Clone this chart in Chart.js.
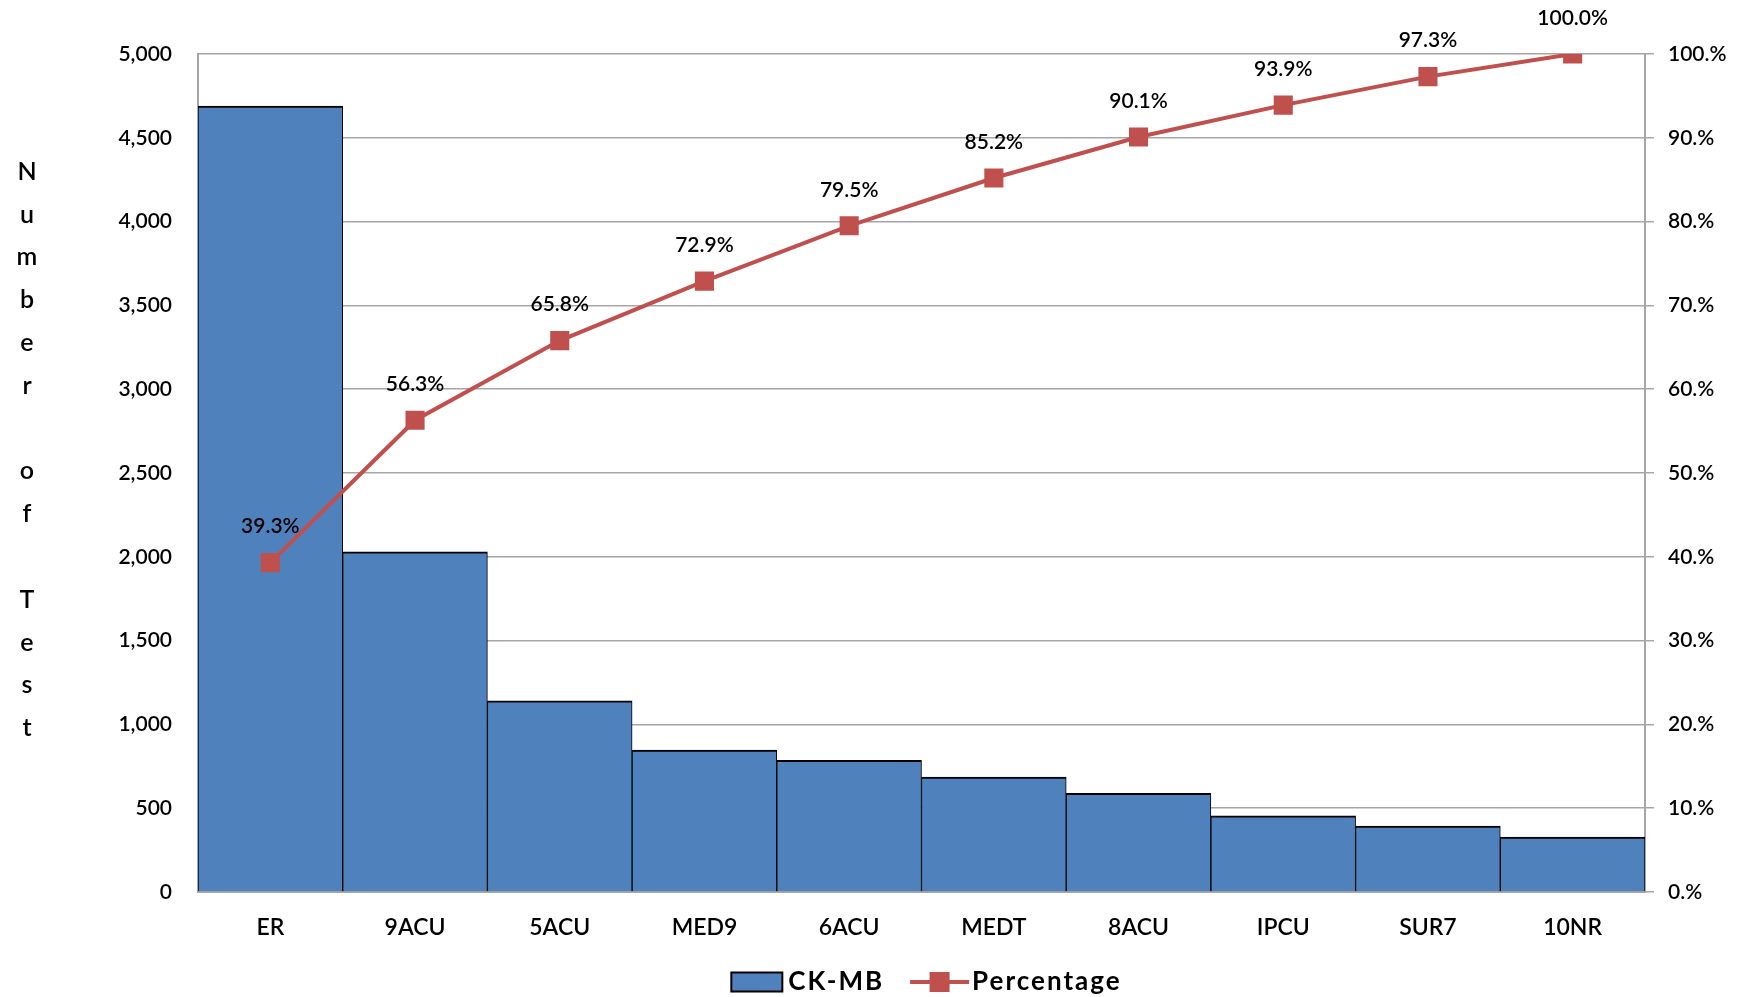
<!DOCTYPE html>
<html>
<head>
<meta charset="utf-8">
<title>CK-MB Pareto</title>
<script src="https://cdn.jsdelivr.net/npm/chart.js@4/dist/chart.umd.min.js"></script>
<style>
  html, body { margin: 0; padding: 0; background: #ffffff; }
  #wrap { width: 1748px; height: 997px; position: relative; }
</style>
</head>
<body>
<div id="wrap"><canvas id="pareto"></canvas></div>
<script>
// Units and their CK-MB test counts, sorted descending
const categories = ['ER', '9ACU', '5ACU', 'MED9', '6ACU', 'MEDT', '8ACU', 'IPCU', 'SUR7', '10NR'];
const testCounts = [4690, 2030, 1140, 847, 785, 686, 588, 454, 394, 328];
// Cumulative share of all tests (%)
const cumulativePct = [39.3, 56.3, 65.8, 72.9, 79.5, 85.2, 90.1, 93.9, 97.3, 100.0];
// Axis ranges
const countAxis = { min: 0, max: 5000, step: 500 };
const pctAxis = { min: 0, max: 100, step: 10 };
const yTitle = 'Number of Test';
const seriesNames = ['CK-MB', 'Percentage'];

const FONT = 'Lato, "Open Sans", "Noto Sans", sans-serif';
const WEIGHT = '600';
const BAR_BLUE = '#4F81BD';
const LINE_RED = '#C0504D';
const GRID = '#A6A6A6';

// Value labels above the cumulative line markers
const pointLabels = {
  id: 'pointLabels',
  afterDatasetsDraw(chart) {
    const meta = chart.getDatasetMeta(1);
    const ctx = chart.ctx;
    ctx.save();
    ctx.font = WEIGHT + ' 21px ' + FONT;
    ctx.fillStyle = '#000';
    ctx.textAlign = 'center';
    ctx.textBaseline = 'middle';
    meta.data.forEach((el, i) => {
      ctx.fillText(cumulativePct[i].toFixed(1) + '%', el.x, el.y - 36);
    });
    ctx.restore();
  }
};

// Left axis title written as stacked upright letters
const stackedTitle = {
  id: 'stackedTitle',
  afterDraw(chart) {
    const ctx = chart.ctx;
    ctx.save();
    ctx.font = WEIGHT + ' 25px ' + FONT;
    ctx.fillStyle = '#000';
    ctx.textAlign = 'center';
    ctx.textBaseline = 'middle';
    const chars = yTitle.split('');
    const step = 42.8;
    const total = (chars.length - 1) * step;
    const cy = 450;
    chars.forEach((ch, i) => {
      if (ch !== ' ') ctx.fillText(ch, 27, cy - total / 2 + i * step);
    });
    ctx.restore();
  }
};

// Legend: filled box for the bars, line with square marker for the cumulative series
const bottomLegend = {
  id: 'bottomLegend',
  afterDraw(chart) {
    const ctx = chart.ctx;
    ctx.save();
    ctx.font = 'bold 26px ' + FONT;
    ctx.letterSpacing = '2px';
    ctx.textBaseline = 'middle';
    ctx.textAlign = 'left';
    const boxW = 51, boxH = 19, lineW = 59, sq = 20;
    const gapBox = 6, gapLine = 3, gapItem = 26;
    const w0 = ctx.measureText(seriesNames[0]).width;
    const w1 = ctx.measureText(seriesNames[1]).width;
    const totalW = boxW + gapBox + w0 + gapItem + lineW + gapLine + w1;
    const area = chart.chartArea;
    let x = (area.left + area.right) / 2 + 5 - totalW / 2;
    const cy = 982;
    // bar swatch
    ctx.fillStyle = BAR_BLUE;
    ctx.fillRect(x, cy - boxH / 2, boxW, boxH);
    ctx.strokeStyle = '#000';
    ctx.lineWidth = 2;
    ctx.strokeRect(x, cy - boxH / 2, boxW, boxH);
    x += boxW + gapBox;
    ctx.fillStyle = '#000';
    ctx.fillText(seriesNames[0], x, cy);
    x += w0 + gapItem;
    // line swatch
    ctx.strokeStyle = LINE_RED;
    ctx.lineWidth = 4;
    ctx.beginPath();
    ctx.moveTo(x, cy);
    ctx.lineTo(x + lineW, cy);
    ctx.stroke();
    ctx.fillStyle = LINE_RED;
    ctx.fillRect(x + lineW / 2 - sq / 2, cy - sq / 2, sq, sq);
    x += lineW + gapLine;
    ctx.fillStyle = '#000';
    ctx.fillText(seriesNames[1], x, cy);
    ctx.restore();
  }
};

new Chart(document.getElementById('pareto'), {
  type: 'bar',
  data: {
    labels: categories,
    datasets: [
      {
        type: 'bar',
        label: seriesNames[0],
        data: testCounts,
        yAxisID: 'y',
        backgroundColor: BAR_BLUE,
        borderColor: '#000',
        borderWidth: { top: 2, left: 1, right: 1, bottom: 0 },
        borderSkipped: false,
        categoryPercentage: 1.0,
        barPercentage: 1.0,
        order: 1
      },
      {
        type: 'line',
        label: seriesNames[1],
        data: cumulativePct,
        yAxisID: 'y2',
        borderColor: LINE_RED,
        backgroundColor: LINE_RED,
        borderWidth: 4,
        pointStyle: 'rect',
        pointRadius: 13.5,
        pointBorderWidth: 0,
        tension: 0,
        order: 0
      }
    ]
  },
  options: {
    responsive: true,
    maintainAspectRatio: false,
    devicePixelRatio: 1,
    animation: false,
    layout: { padding: { left: 60, right: 0, top: 54, bottom: 0 } },
    plugins: {
      legend: { display: false },
      tooltip: { enabled: false }
    },
    scales: {
      x: {
        offset: true,
        grid: { display: false, drawTicks: false },
        border: { display: true, color: GRID, width: 2 },
        ticks: { color: '#000', font: { family: FONT, size: 23, weight: WEIGHT }, padding: 22 },
        afterFit(s) { s.height = 105; }
      },
      y: {
        position: 'left',
        min: countAxis.min,
        max: countAxis.max,
        grid: { color: GRID, lineWidth: 1.5, drawTicks: false },
        border: { display: true, color: GRID, width: 2 },
        ticks: {
          stepSize: countAxis.step,
          color: '#000',
          font: { family: FONT, size: 21, weight: WEIGHT },
          padding: 26,
          callback: v => Number(v).toLocaleString('en-US')
        },
        afterFit(s) { s.width = 138; }
      },
      y2: {
        position: 'right',
        min: pctAxis.min,
        max: pctAxis.max,
        grid: { drawOnChartArea: false, color: GRID, lineWidth: 1.5, drawTicks: true, tickLength: 9 },
        border: { display: true, color: GRID, width: 2 },
        ticks: {
          stepSize: pctAxis.step,
          color: '#000',
          font: { family: FONT, size: 21, weight: WEIGHT },
          padding: 14,
          callback: v => v + '.%'
        },
        afterFit(s) { s.width = 103; }
      }
    }
  },
  plugins: [pointLabels, stackedTitle, bottomLegend]
});
</script>
</body>
</html>
